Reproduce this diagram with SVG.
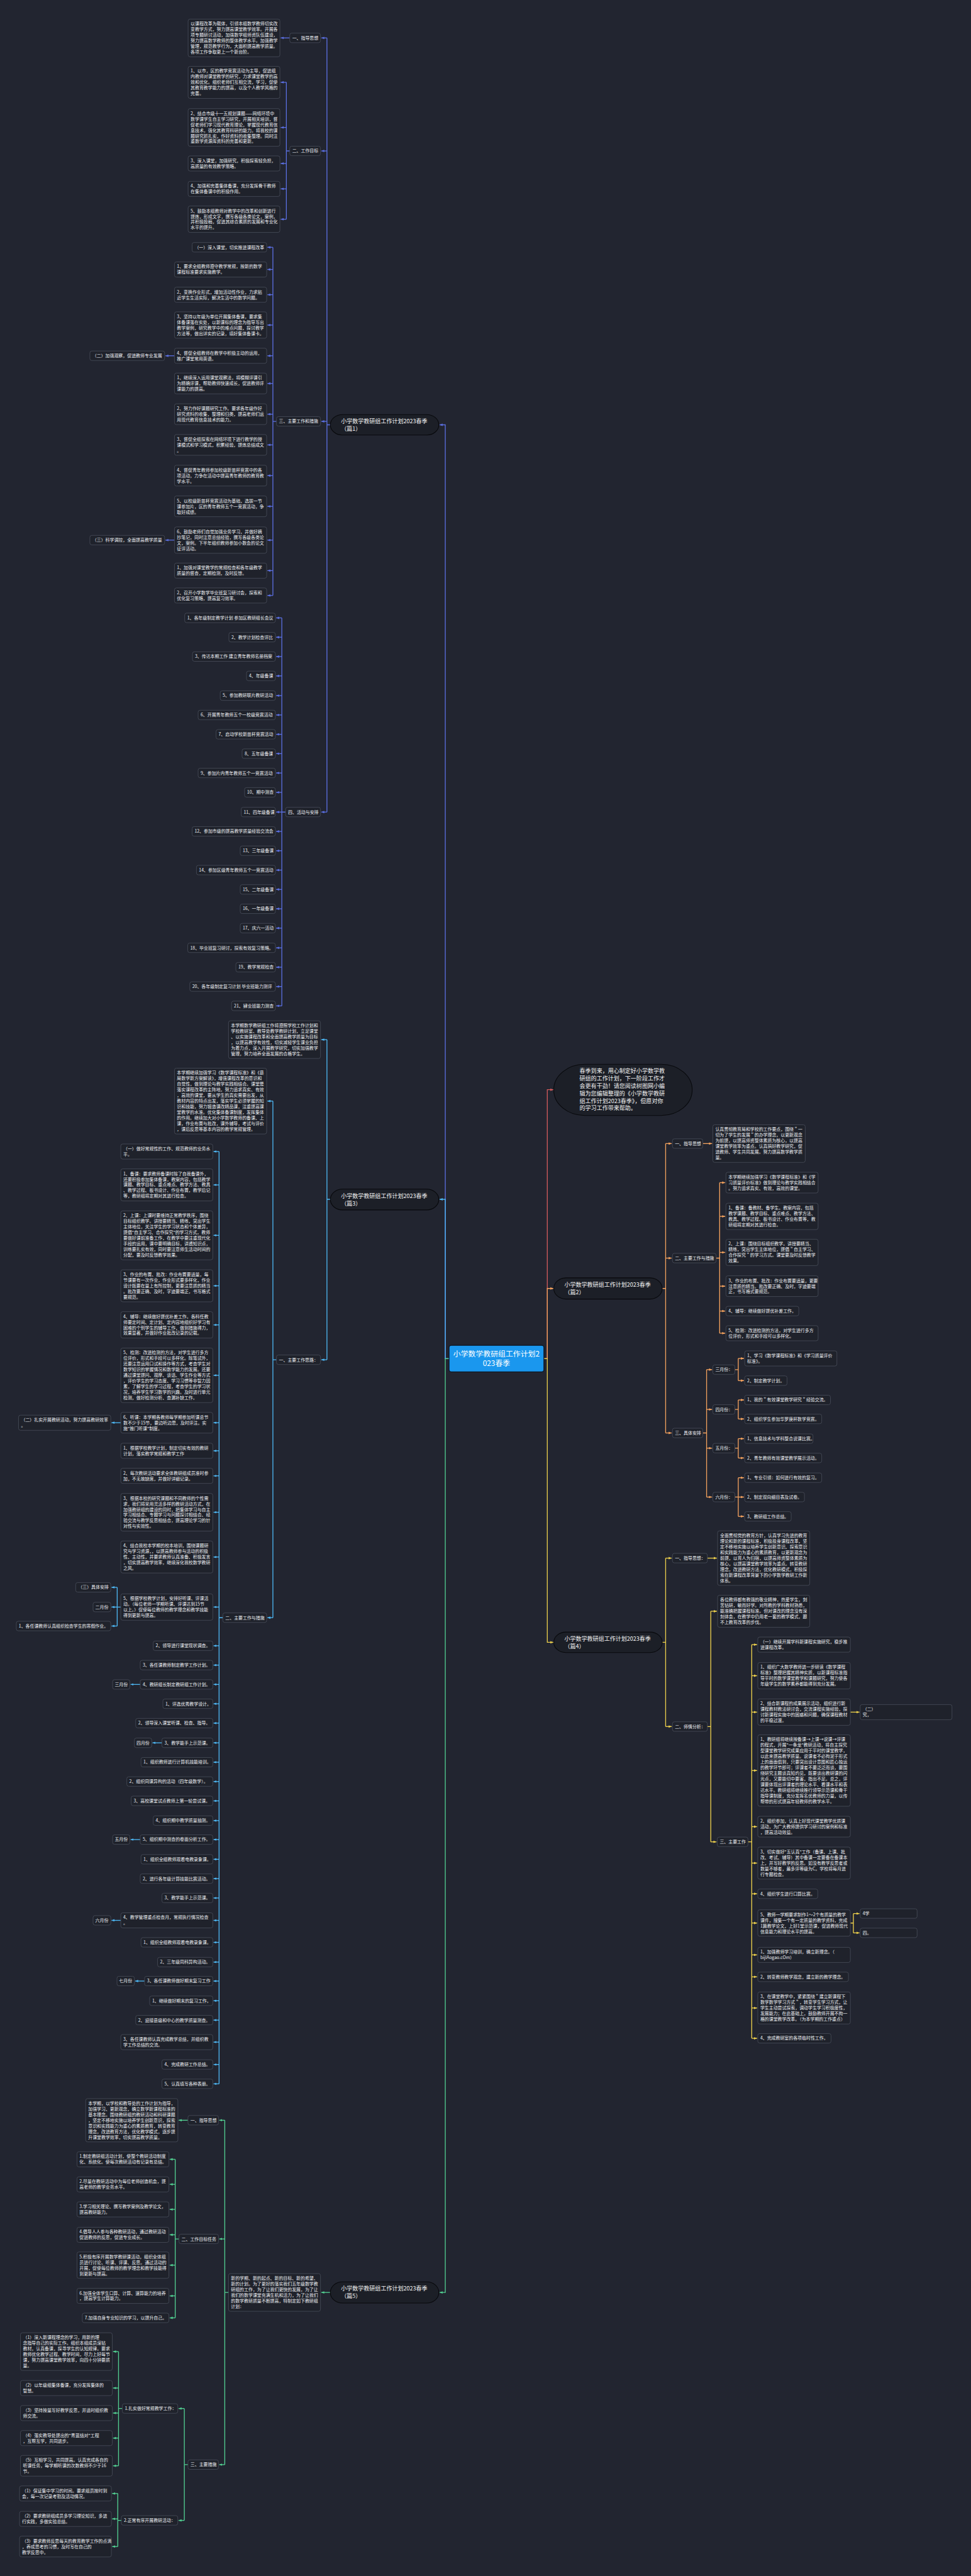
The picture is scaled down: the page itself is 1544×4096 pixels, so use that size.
<svg xmlns="http://www.w3.org/2000/svg" width="1544" height="4096" viewBox="0 0 1544 4096">
<defs>
<style>
.b{fill:#1f222b;stroke:#4a4f5c;stroke-width:1.3}
.t{font-family:"Noto Sans CJK SC","Noto Sans",sans-serif;font-size:11.5px;fill:#eceef2}
.p{fill:#1c1f27;stroke:#08090c;stroke-width:1.8}
.pt{font-family:"Noto Sans CJK SC","Noto Sans",sans-serif;font-size:15px;fill:#f4f4f4}
.ct{font-family:"Noto Sans CJK SC","Noto Sans",sans-serif;font-size:19.7px;fill:#ffffff;text-anchor:middle}
.k1,.k2,.k3,.k4,.k5,.kr{fill:none;stroke-width:2.2}
.k1{stroke:#5b6fe0}.k3{stroke:#4db6f2}.k5{stroke:#52cf91}.kr{stroke:#d45c5c}.k2{stroke:#f4a25e}.k4{stroke:#edd04c}
.m1{marker-end:url(#a1)}.m2{marker-end:url(#a2)}.m3{marker-end:url(#a3)}.m4{marker-end:url(#a4)}.m5{marker-end:url(#a5)}.mr{marker-end:url(#ar)}
</style>
<marker id="a1" viewBox="0 0 10 10" refX="10" refY="5" markerWidth="8" markerHeight="8" markerUnits="userSpaceOnUse" orient="auto"><path d="M0,1L10,5L0,9z" fill="#5b6fe0"/></marker>
<marker id="a2" viewBox="0 0 10 10" refX="10" refY="5" markerWidth="8" markerHeight="8" markerUnits="userSpaceOnUse" orient="auto"><path d="M0,1L10,5L0,9z" fill="#f4a25e"/></marker>
<marker id="a3" viewBox="0 0 10 10" refX="10" refY="5" markerWidth="8" markerHeight="8" markerUnits="userSpaceOnUse" orient="auto"><path d="M0,1L10,5L0,9z" fill="#4db6f2"/></marker>
<marker id="a4" viewBox="0 0 10 10" refX="10" refY="5" markerWidth="8" markerHeight="8" markerUnits="userSpaceOnUse" orient="auto"><path d="M0,1L10,5L0,9z" fill="#edd04c"/></marker>
<marker id="a5" viewBox="0 0 10 10" refX="10" refY="5" markerWidth="8" markerHeight="8" markerUnits="userSpaceOnUse" orient="auto"><path d="M0,1L10,5L0,9z" fill="#52cf91"/></marker>
<marker id="ar" viewBox="0 0 10 10" refX="10" refY="5" markerWidth="8" markerHeight="8" markerUnits="userSpaceOnUse" orient="auto"><path d="M0,1L10,5L0,9z" fill="#d45c5c"/></marker>
</defs>
<rect x="0" y="0" width="1544" height="4096" fill="#222530"/>
<g transform="scale(0.6031)">
<g id="connectors">
<path class="k1 m1" d="M1184,3582H1174V1120H1159"/>
<path class="k3 m3" d="M1184,3582H1174V3162H1159"/>
<path class="k5 m5" d="M1184,3582H1174V6044H1159"/>
<path class="kr mr" d="M1434,3582H1443V2873H1459"/>
<path class="k2 m2" d="M1434,3582H1443V3397H1459"/>
<path class="k4 m4" d="M1434,3582H1443V4330H1459"/>
<path class="k1" d="M871,1120H862M862,100V2141"/>
<path class="k1 m1" d="M862,100H847"/><path class="k1 m1" d="M862,398H847"/><path class="k1 m1" d="M862,1111H847"/><path class="k1 m1" d="M862,2141H847"/>
<path class="k1 m1" d="M764,100H740"/>
<path class="k1" d="M764,398H755M755,217V578"/>
<path class="k1 m1" d="M755,217H740"/><path class="k1 m1" d="M755,336H740"/><path class="k1 m1" d="M755,431H740"/><path class="k1 m1" d="M755,498H740"/><path class="k1 m1" d="M755,578H740"/>
<path class="k1" d="M729,1111H719.5M719.5,652V1570"/>
<path class="k1 m1" d="M719.5,652H705"/><path class="k1 m1" d="M719.5,710.5H705"/><path class="k1 m1" d="M719.5,777H705"/><path class="k1 m1" d="M719.5,857H705"/><path class="k1 m1" d="M719.5,938H705"/><path class="k1 m1" d="M719.5,1011H705"/><path class="k1 m1" d="M719.5,1092H705"/><path class="k1 m1" d="M719.5,1173H705"/><path class="k1 m1" d="M719.5,1254H705"/><path class="k1 m1" d="M719.5,1335H705"/><path class="k1 m1" d="M719.5,1424H705"/><path class="k1 m1" d="M719.5,1504.5H705"/><path class="k1 m1" d="M719.5,1570H705"/>
<path class="k1 m1" d="M460,938H436"/><path class="k1 m1" d="M460,1424H436"/>
<path class="k1" d="M753,2141H743M743,1629V2652"/>
<path class="k1 m1" d="M743,1629H728"/><path class="k1 m1" d="M743,1680H728"/><path class="k1 m1" d="M743,1731H728"/><path class="k1 m1" d="M743,1782H728"/><path class="k1 m1" d="M743,1834H728"/><path class="k1 m1" d="M743,1885H728"/><path class="k1 m1" d="M743,1936H728"/><path class="k1 m1" d="M743,1987H728"/><path class="k1 m1" d="M743,2038H728"/><path class="k1 m1" d="M743,2089H728"/><path class="k1 m1" d="M743,2141H728"/><path class="k1 m1" d="M743,2192H728"/><path class="k1 m1" d="M743,2243H728"/><path class="k1 m1" d="M743,2294H728"/><path class="k1 m1" d="M743,2345H728"/><path class="k1 m1" d="M743,2396H728"/><path class="k1 m1" d="M743,2447H728"/><path class="k1 m1" d="M743,2499H728"/><path class="k1 m1" d="M743,2550H728"/><path class="k1 m1" d="M743,2601H728"/><path class="k1 m1" d="M743,2652H728"/>
<path class="k3" d="M871,3162H862M862,2741V3585"/>
<path class="k3 m3" d="M862,2741H847"/><path class="k3 m3" d="M862,3585H847"/>
<path class="k3" d="M729,3585H719.5M719.5,2903V4265"/>
<path class="k3 m3" d="M719.5,2903H705"/><path class="k3 m3" d="M719.5,4265H705"/>
<path class="k3" d="M587.6,4265H577.6M577.6,3036V5494"/>
<path class="k3 m3" d="M577.6,3036H563"/><path class="k3 m3" d="M577.6,3124H563"/><path class="k3 m3" d="M577.6,3257H563"/><path class="k3 m3" d="M577.6,3390H563"/><path class="k3 m3" d="M577.6,3493H563"/><path class="k3 m3" d="M577.6,3626H563"/><path class="k3 m3" d="M577.6,3751H563"/><path class="k3 m3" d="M577.6,3825H563"/><path class="k3 m3" d="M577.6,3891H563"/><path class="k3 m3" d="M577.6,3987H563"/><path class="k3 m3" d="M577.6,4105H563"/><path class="k3 m3" d="M577.6,4237H563"/><path class="k3 m3" d="M577.6,4339H563"/><path class="k3 m3" d="M577.6,4390H563"/><path class="k3 m3" d="M577.6,4441H563"/><path class="k3 m3" d="M577.6,4492H563"/><path class="k3 m3" d="M577.6,4543H563"/><path class="k3 m3" d="M577.6,4595H563"/><path class="k3 m3" d="M577.6,4646H563"/><path class="k3 m3" d="M577.6,4697H563"/><path class="k3 m3" d="M577.6,4748H563"/><path class="k3 m3" d="M577.6,4800H563"/><path class="k3 m3" d="M577.6,4850H563"/><path class="k3 m3" d="M577.6,4902H563"/><path class="k3 m3" d="M577.6,4953H563"/><path class="k3 m3" d="M577.6,5004H563"/><path class="k3 m3" d="M577.6,5063H563"/><path class="k3 m3" d="M577.6,5121H563"/><path class="k3 m3" d="M577.6,5173H563"/><path class="k3 m3" d="M577.6,5223H563"/><path class="k3 m3" d="M577.6,5275H563"/><path class="k3 m3" d="M577.6,5326H563"/><path class="k3 m3" d="M577.6,5384H563"/><path class="k3 m3" d="M577.6,5443H563"/><path class="k3 m3" d="M577.6,5494H563"/>
<path class="k3 m3" d="M318.5,3751H294"/>
<path class="k3" d="M318.5,4237H309M309,4185V4287"/>
<path class="k3 m3" d="M309,4185H294"/><path class="k3 m3" d="M309,4237H294"/><path class="k3 m3" d="M309,4287H294"/>
<path class="k3 m3" d="M369.7,4441H344.3"/><path class="k3 m3" d="M427,4595H402"/><path class="k3 m3" d="M369.7,4850H344.3"/><path class="k3 m3" d="M318.5,5063H294"/><path class="k3 m3" d="M381.2,5223H356.3"/>
<path class="k5 m5" d="M871,6044H847"/>
<path class="k5" d="M602.5,6044H592.6M592.6,5590V6498"/>
<path class="k5 m5" d="M592.6,5590H578"/><path class="k5 m5" d="M592.6,5903H578"/><path class="k5 m5" d="M592.6,6498H578"/>
<path class="k5 m5" d="M495.6,5590H471"/>
<path class="k5" d="M472,5903H462M462,5693V6111"/>
<path class="k5 m5" d="M462,5693H447.3"/><path class="k5 m5" d="M462,5759H447.3"/><path class="k5 m5" d="M462,5825H447.3"/><path class="k5 m5" d="M462,5892H447.3"/><path class="k5 m5" d="M462,5972H447.3"/><path class="k5 m5" d="M462,6053H447.3"/><path class="k5 m5" d="M462,6111H447.3"/>
<path class="k5" d="M495.6,6498H486M486,6350V6645"/>
<path class="k5 m5" d="M486,6350H470.7"/><path class="k5 m5" d="M486,6645H470.7"/>
<path class="k5" d="M322.5,6350H312.5M312.5,6200V6501"/>
<path class="k5 m5" d="M312.5,6200H298"/><path class="k5 m5" d="M312.5,6296H298"/><path class="k5 m5" d="M312.5,6362H298"/><path class="k5 m5" d="M312.5,6428H298"/><path class="k5 m5" d="M312.5,6501H298"/>
<path class="k5" d="M320,6645H310.5M310.5,6574V6714"/>
<path class="k5 m5" d="M310.5,6574H295.6"/><path class="k5 m5" d="M310.5,6641H295.6"/><path class="k5 m5" d="M310.5,6714H295.6"/>
<path class="k2" d="M1746,3397H1755M1755,3015V3778"/>
<path class="k2 m2" d="M1755,3015H1771"/><path class="k2 m2" d="M1755,3317H1771"/><path class="k2 m2" d="M1755,3778H1771"/>
<path class="k2 m2" d="M1853,3015H1877.5"/>
<path class="k2" d="M1888,3317H1897.4M1897.4,3118V3515"/>
<path class="k2 m2" d="M1897.4,3118H1912"/><path class="k2 m2" d="M1897.4,3207H1912"/><path class="k2 m2" d="M1897.4,3302H1912"/><path class="k2 m2" d="M1897.4,3391H1912"/><path class="k2 m2" d="M1897.4,3456.6H1912"/><path class="k2 m2" d="M1897.4,3515H1912"/>
<path class="k2" d="M1853,3778H1863M1863,3611V3947"/>
<path class="k2 m2" d="M1863,3611H1877.5"/><path class="k2 m2" d="M1863,3716H1877.5"/><path class="k2 m2" d="M1863,3818H1877.5"/><path class="k2 m2" d="M1863,3947H1877.5"/>
<path class="k2" d="M1937.5,3611H1946.5M1946.5,3581.5V3640M1937.5,3716H1946.5M1946.5,3691V3741M1937.5,3818H1946.5M1946.5,3793V3844M1937.5,3947H1946.5M1946.5,3896V3998"/>
<path class="k2 m2" d="M1946.5,3581.5H1961.5"/><path class="k2 m2" d="M1946.5,3640H1961.5"/><path class="k2 m2" d="M1946.5,3691H1961.5"/><path class="k2 m2" d="M1946.5,3741H1961.5"/><path class="k2 m2" d="M1946.5,3793H1961.5"/><path class="k2 m2" d="M1946.5,3844H1961.5"/><path class="k2 m2" d="M1946.5,3896H1961.5"/><path class="k2 m2" d="M1946.5,3947H1961.5"/><path class="k2 m2" d="M1946.5,3998H1961.5"/>
<path class="k4" d="M1746,4330H1755M1755,4108V4552"/>
<path class="k4 m4" d="M1755,4108H1771"/><path class="k4 m4" d="M1755,4552H1771"/>
<path class="k4 m4" d="M1865,4108H1890"/>
<path class="k4" d="M1865,4552H1874M1874,4248V4856"/>
<path class="k4 m4" d="M1874,4248H1890"/><path class="k4 m4" d="M1874,4856H1889"/>
<path class="k4" d="M1972,4856H1982M1982,4336V5374"/>
<path class="k4 m4" d="M1982,4336H1996"/><path class="k4 m4" d="M1982,4418H1996"/><path class="k4 m4" d="M1982,4514H1996"/><path class="k4 m4" d="M1982,4668H1996"/><path class="k4 m4" d="M1982,4816H1996"/><path class="k4 m4" d="M1982,4912H1996"/><path class="k4 m4" d="M1982,4993H1996"/><path class="k4 m4" d="M1982,5070H1996"/><path class="k4 m4" d="M1982,5154H1996"/><path class="k4 m4" d="M1982,5212H1996"/><path class="k4 m4" d="M1982,5294H1996"/><path class="k4 m4" d="M1982,5374H1996"/>
<path class="k4 m4" d="M2242,4514H2266"/>
<path class="k4" d="M2242,5070H2250M2250,5045V5096"/>
<path class="k4 m4" d="M2250,5045H2266"/><path class="k4 m4" d="M2250,5096H2266"/>
</g>

<g id="center"><rect x="1184" y="3547" width="250" height="70" rx="6" fill="#1a97ee" stroke="#0d1520" stroke-width="2"/><text class="ct" x="1309" y="3576">小学数学教研组工作计划2<tspan x="1309" dy="26">023春季</tspan></text></g>

<g id="intro"><rect class="p" x="1460" y="2806" width="365" height="135" rx="82" ry="67"/><text class="pt" x="1528" y="2828.3">春季到来，用心制定好小学数学教<tspan x="1528" dy="19.8">研组的工作计划，下一阶段工作才</tspan><tspan x="1528" dy="19.8">会更有干劲！请您阅读树图网小编</tspan><tspan x="1528" dy="19.8">辑为您编辑整理的《小学数学教研</tspan><tspan x="1528" dy="19.8">组工作计划2023春季》，但愿对你</tspan><tspan x="1528" dy="19.8">的学习工作带来帮助。</tspan></text></g>

<g id="p1"><rect class="p" x="871" y="1093" width="286" height="54" rx="32" ry="27"/><text class="pt" x="899" y="1115.5">小学数学教研组工作计划2023春季<tspan x="899" dy="20">（篇1）</tspan></text></g>
<g id="p1-1"><rect class="b" x="764" y="87.5" width="81" height="25" rx="5"/><text class="t" x="770.5" y="104">一、指导思想</text></g>
<g id="p1-1a"><rect class="b" x="496" y="50.4" width="242" height="99.25" rx="5"/><text class="t" x="502.5" y="66.9">以课程改革为载体，引领本组数学教师切实改<tspan x="502.5" dy="14.85">变教学方式，努力提高课堂教学效率。开展各</tspan><tspan x="502.5" dy="14.85">项专题研讨活动，加强数学组师资队伍建设，</tspan><tspan x="502.5" dy="14.85">努力提高数学教师的整体教学水平。加强教学</tspan><tspan x="502.5" dy="14.85">管理，规范教学行为，大面积提高教学质量。</tspan><tspan x="502.5" dy="14.85">各项工作争取更上一个新台阶。</tspan></text></g>
<g id="p1-2"><rect class="b" x="764" y="385.5" width="81" height="25" rx="5"/><text class="t" x="770.5" y="402">二、工作目标</text></g>
<g id="p1-2a"><rect class="b" x="496" y="175" width="242" height="84.4" rx="5"/><text class="t" x="502.5" y="191.5">1、以市，区的教学竞赛活动为主导，促进组<tspan x="502.5" dy="14.85">内教师对课堂教学的研究，力求课堂教学的高</tspan><tspan x="502.5" dy="14.85">效和优化。组织老师们互相交流，学习，促使</tspan><tspan x="502.5" dy="14.85">其教育教学能力的提高，以及个人教学风格的</tspan><tspan x="502.5" dy="14.85">完善。</tspan></text></g>
<g id="p1-2b"><rect class="b" x="496" y="286.4" width="242" height="99.25" rx="5"/><text class="t" x="502.5" y="302.9">2、结合市级十一五规划课题——网络环境中<tspan x="502.5" dy="14.85">数学课学生自主学习研究，开展相关培训，督</tspan><tspan x="502.5" dy="14.85">促老师们学习现代教育理论，掌握现代教育信</tspan><tspan x="502.5" dy="14.85">息技术，强化其教育科研的能力。将我校的课</tspan><tspan x="502.5" dy="14.85">题研究抓扎实，作好资料的收集整理。同时注</tspan><tspan x="502.5" dy="14.85">重数学资源库资料的完善和更新。</tspan></text></g>
<g id="p1-2c"><rect class="b" x="496" y="411.1" width="242" height="39.85" rx="5"/><text class="t" x="502.5" y="427.6">3、深入课堂，加强研究，积极探索轻负担，<tspan x="502.5" dy="14.85">高质量的有效教学策略。</tspan></text></g>
<g id="p1-2d"><rect class="b" x="496" y="478.1" width="242" height="39.85" rx="5"/><text class="t" x="502.5" y="494.6">4、加强和完善集体备课，充分发挥骨干教师<tspan x="502.5" dy="14.85">在集体备课中的积极作用。</tspan></text></g>
<g id="p1-2e"><rect class="b" x="496" y="543.2" width="242" height="69.55" rx="5"/><text class="t" x="502.5" y="559.7">5、鼓励本组教师对教学中的改革和创新进行<tspan x="502.5" dy="14.85">提炼，形成文字，撰写各级各类论文，案例，</tspan><tspan x="502.5" dy="14.85">并积极投稿，促进其综合素质的发展和专业化</tspan><tspan x="502.5" dy="14.85">水平的提升。</tspan></text></g>
<g id="p1-3"><rect class="b" x="729" y="1098.5" width="116" height="25" rx="5"/><text class="t" x="735.5" y="1115">三、主要工作和措施</text></g>
<g id="p1-3a"><rect class="b" x="506.5" y="639.5" width="196.5" height="25" rx="5"/><text class="t" x="513" y="656">（一）深入课堂，切实推进课程改革</text></g>
<g id="p1-3b"><rect class="b" x="460" y="690.6" width="243" height="39.85" rx="5"/><text class="t" x="466.5" y="707.1">1、要求全组教师遵守教学常规，按新的数学<tspan x="466.5" dy="14.85">课程标准要求实施教学。</tspan></text></g>
<g id="p1-3c"><rect class="b" x="460" y="757.1" width="243" height="39.85" rx="5"/><text class="t" x="466.5" y="773.6">2、变换作业形式，增加活动性作业，力求贴<tspan x="466.5" dy="14.85">近学生生活实际，解决生活中的数学问题。</tspan></text></g>
<g id="p1-3d"><rect class="b" x="460" y="822.2" width="243" height="69.55" rx="5"/><text class="t" x="466.5" y="838.7">3、坚持以年级为单位开展集体备课，要求集<tspan x="466.5" dy="14.85">体备课落在实处，以新课标的理念为指导写出</tspan><tspan x="466.5" dy="14.85">教学案例，研究教学中的难点问题，探讨教学</tspan><tspan x="466.5" dy="14.85">方法等，做出详实的记录，填好集体备课卡。</tspan></text></g>
<g id="p1-3e"><rect class="b" x="460" y="918.1" width="243" height="39.85" rx="5"/><text class="t" x="466.5" y="934.6">4、督促全组教师在教学中积极主动的运用，<tspan x="466.5" dy="14.85">推广课堂常用英语。</tspan></text></g>
<g id="p1-3e1"><rect class="b" x="237" y="925.5" width="197" height="25" rx="5"/><text class="t" x="243.5" y="942">（二）加强观察，促进教师专业发展</text></g>
<g id="p1-3f"><rect class="b" x="460" y="983.65" width="243" height="54.7" rx="5"/><text class="t" x="466.5" y="1000.15">1、继续深入运用课堂观察法，将模糊评课引<tspan x="466.5" dy="14.85">为精确评课，帮助教师快速成长，促进教师评</tspan><tspan x="466.5" dy="14.85">课能力的提高。</tspan></text></g>
<g id="p1-3g"><rect class="b" x="460" y="1064.65" width="243" height="54.7" rx="5"/><text class="t" x="466.5" y="1081.15">2、努力作好课题研究工作。要求各年级作好<tspan x="466.5" dy="14.85">研究资料的收集，整理和归类，提高老师们运</tspan><tspan x="466.5" dy="14.85">用现代教育信息技术的能力。</tspan></text></g>
<g id="p1-3h"><rect class="b" x="460" y="1145.65" width="243" height="54.7" rx="5"/><text class="t" x="466.5" y="1162.15">3、督促全组探索在网络环境下进行教学的授<tspan x="466.5" dy="14.85">课模式和学习模式，积累经验，提炼总结成文</tspan><tspan x="466.5" dy="14.85">。</tspan></text></g>
<g id="p1-3i"><rect class="b" x="460" y="1226.65" width="243" height="54.7" rx="5"/><text class="t" x="466.5" y="1243.15">4、督促青年教师参加校级新苗杯竞赛中的各<tspan x="466.5" dy="14.85">项活动，力争在活动中提高青年教师的教育教</tspan><tspan x="466.5" dy="14.85">学水平。</tspan></text></g>
<g id="p1-3j"><rect class="b" x="460" y="1307.65" width="243" height="54.7" rx="5"/><text class="t" x="466.5" y="1324.15">5、以校级新苗杯竞赛活动为基础，选拔一节<tspan x="466.5" dy="14.85">课参加片，区的青年教师五个一竞赛活动，争</tspan><tspan x="466.5" dy="14.85">取好成绩。</tspan></text></g>
<g id="p1-3k"><rect class="b" x="460" y="1389.2" width="243" height="69.55" rx="5"/><text class="t" x="466.5" y="1405.7">6、鼓励老师们自觉加强业务学习，并做好摘<tspan x="466.5" dy="14.85">抄笔记，同时注意总结经验，撰写各级各类论</tspan><tspan x="466.5" dy="14.85">文，案例。下半年组织教师参加小数会的论文</tspan><tspan x="466.5" dy="14.85">征评活动。</tspan></text></g>
<g id="p1-3k1"><rect class="b" x="237" y="1411.5" width="197" height="25" rx="5"/><text class="t" x="243.5" y="1428">（三）科学调控，全面提高教学质量</text></g>
<g id="p1-3l"><rect class="b" x="460" y="1484.6" width="243" height="39.85" rx="5"/><text class="t" x="466.5" y="1501.1">1、加强对课堂教学的常规检查和各年级教学<tspan x="466.5" dy="14.85">质量的督查，定期检测，及时反馈。</tspan></text></g>
<g id="p1-3m"><rect class="b" x="460" y="1550.1" width="243" height="39.85" rx="5"/><text class="t" x="466.5" y="1566.6">2、召开小学数学毕业班复习研讨会，探索和<tspan x="466.5" dy="14.85">优化复习策略，提高复习效率。</tspan></text></g>
<g id="p1-4"><rect class="b" x="753" y="2128.5" width="92" height="25" rx="5"/><text class="t" x="759.5" y="2145">四、活动与安排</text></g>
<g id="p1-4-01"><rect class="b" x="487" y="1616.5" width="239" height="25" rx="5"/><text class="t" x="493.5" y="1633">1、各年级制定教学计划 参加区教研组长会议</text></g>
<g id="p1-4-02"><rect class="b" x="603.5" y="1667.5" width="122.5" height="25" rx="5"/><text class="t" x="610" y="1684">2、教学计划检查评比</text></g>
<g id="p1-4-03"><rect class="b" x="507.5" y="1718.5" width="218.5" height="25" rx="5"/><text class="t" x="514" y="1735">3、传达本期工作 建立青年教师名册档案</text></g>
<g id="p1-4-04"><rect class="b" x="650" y="1769.5" width="76" height="25" rx="5"/><text class="t" x="656.5" y="1786">4、年级备课</text></g>
<g id="p1-4-05"><rect class="b" x="580.6" y="1821.5" width="145.4" height="25" rx="5"/><text class="t" x="587.1" y="1838">5、参加教研联片教研活动</text></g>
<g id="p1-4-06"><rect class="b" x="522.4" y="1872.5" width="203.6" height="25" rx="5"/><text class="t" x="528.9" y="1889">6、开展青年教师五个一校级竞赛活动</text></g>
<g id="p1-4-07"><rect class="b" x="569.7" y="1923.5" width="156.3" height="25" rx="5"/><text class="t" x="576.2" y="1940">7、启动学校新苗杯竞赛活动</text></g>
<g id="p1-4-08"><rect class="b" x="638.3" y="1974.5" width="87.7" height="25" rx="5"/><text class="t" x="644.8" y="1991">8、五年级备课</text></g>
<g id="p1-4-09"><rect class="b" x="522.4" y="2025.5" width="203.6" height="25" rx="5"/><text class="t" x="528.9" y="2042">9、参加片内青年教师五个一竞赛活动</text></g>
<g id="p1-4-10"><rect class="b" x="644.8" y="2076.5" width="81.2" height="25" rx="5"/><text class="t" x="651.3" y="2093">10、期中测查</text></g>
<g id="p1-4-11"><rect class="b" x="635.9" y="2128.5" width="90.1" height="25" rx="5"/><text class="t" x="642.4" y="2145">11、四年级备课</text></g>
<g id="p1-4-12"><rect class="b" x="506.5" y="2179.5" width="219.5" height="25" rx="5"/><text class="t" x="513" y="2196">12、参加市级的提高教学质量经验交流会</text></g>
<g id="p1-4-13"><rect class="b" x="633.4" y="2230.5" width="92.6" height="25" rx="5"/><text class="t" x="639.9" y="2247">13、三年级备课</text></g>
<g id="p1-4-14"><rect class="b" x="518" y="2281.5" width="208" height="25" rx="5"/><text class="t" x="524.5" y="2298">14、参加区级青年教师五个一竞赛活动</text></g>
<g id="p1-4-15"><rect class="b" x="633.4" y="2332.5" width="92.6" height="25" rx="5"/><text class="t" x="639.9" y="2349">15、二年级备课</text></g>
<g id="p1-4-16"><rect class="b" x="633.4" y="2383.5" width="92.6" height="25" rx="5"/><text class="t" x="639.9" y="2400">16、一年级备课</text></g>
<g id="p1-4-17"><rect class="b" x="633.4" y="2434.5" width="92.6" height="25" rx="5"/><text class="t" x="639.9" y="2451">17、庆六一活动</text></g>
<g id="p1-4-18"><rect class="b" x="495" y="2486.5" width="231" height="25" rx="5"/><text class="t" x="501.5" y="2503">18、毕业班复习研讨，探索有效复习策略。</text></g>
<g id="p1-4-19"><rect class="b" x="621.9" y="2537.5" width="104.1" height="25" rx="5"/><text class="t" x="628.4" y="2554">19、教学常规检查</text></g>
<g id="p1-4-20"><rect class="b" x="500.5" y="2588.5" width="225.5" height="25" rx="5"/><text class="t" x="507" y="2605">20、各年级制定复习计划 毕业班能力测评</text></g>
<g id="p1-4-21"><rect class="b" x="610.5" y="2639.5" width="115.5" height="25" rx="5"/><text class="t" x="617" y="2656">21、肄业班能力测查</text></g>

<g id="p3"><rect class="p" x="871" y="3135" width="286" height="55" rx="32" ry="27.5"/><text class="pt" x="899" y="3158">小学数学教研组工作计划2023春季<tspan x="899" dy="20">（篇3）</tspan></text></g>
<g id="p3-0"><rect class="b" x="602.5" y="2691.4" width="242.5" height="99.25" rx="5"/><text class="t" x="609" y="2707.9">本学期数学教研组工作将遵照学校工作计划和<tspan x="609" dy="14.85">学校教研室、教导处教学教研计划，立足课堂</tspan><tspan x="609" dy="14.85">、以实施课程改革和全面提高教学质量为目标</tspan><tspan x="609" dy="14.85">，以提高教学有效性，切实减轻学生课业负担</tspan><tspan x="609" dy="14.85">为着力点，深入开展教学研究，切实加强教学</tspan><tspan x="609" dy="14.85">管理，努力培养全面发展的合格学生。</tspan></text></g>
<g id="p3-1"><rect class="b" x="729" y="3572.5" width="116" height="25" rx="5"/><text class="t" x="735.5" y="3589">一、主要工作思路：</text></g>
<g id="p3-1a"><rect class="b" x="460" y="2816.25" width="243" height="173.5" rx="5"/><text class="t" x="466.5" y="2832.75">本学期继续加强学习《数学课程标准》和《县<tspan x="466.5" dy="14.85">局数学新方案解读》，增强课程改革的意识和</tspan><tspan x="466.5" dy="14.85">自觉性，做到理论与教学实践相结合。课堂是</tspan><tspan x="466.5" dy="14.85">落实课程改革的主阵地，努力追求真实、有效</tspan><tspan x="466.5" dy="14.85">，高效的课堂，要从学生的真实需要出发，从</tspan><tspan x="466.5" dy="14.85">教材内容的特点出发，落实学生必须掌握的知</tspan><tspan x="466.5" dy="14.85">识和技能，努力锻造课改精品课，注重提高课</tspan><tspan x="466.5" dy="14.85">堂教学的水准。优化集体备课制度，发挥集体</tspan><tspan x="466.5" dy="14.85">的作用。继续加大对小学数学教师的备课、上</tspan><tspan x="466.5" dy="14.85">课，作业布置与批改，课外辅导，考试与评价</tspan><tspan x="466.5" dy="14.85">，课后反思等基本内容的教学常规管理。</tspan></text></g>
<g id="p3-2"><rect class="b" x="587.6" y="4252.5" width="115.4" height="25" rx="5"/><text class="t" x="594.1" y="4269">二、主要工作与措施</text></g>
<g id="p3-2-01"><rect class="b" x="318.5" y="3016.1" width="242.5" height="39.85" rx="5"/><text class="t" x="325" y="3032.6">（一）做好常规性的工作、规范教师的业务水<tspan x="325" dy="14.85">平。</tspan></text></g>
<g id="p3-2-02"><rect class="b" x="318.5" y="3081.8" width="242.5" height="84.4" rx="5"/><text class="t" x="325" y="3098.3">1、备课：要求教师备课时除了自我备课外，<tspan x="325" dy="14.85">还要积极参加集体备课，教案内容，包括教学</tspan><tspan x="325" dy="14.85">课题、教学目标、重点难点、教学方法、教具</tspan><tspan x="325" dy="14.85">、教学过程、板书设计、作业布置，教学后记</tspan><tspan x="325" dy="14.85">等，教研组将定期对其进行检查。</tspan></text></g>
<g id="p3-2-03"><rect class="b" x="318.5" y="3192.5" width="242.5" height="128.95" rx="5"/><text class="t" x="325" y="3209">2、上课：上课时要维持正常教学秩序，围绕<tspan x="325" dy="14.85">目标组织教学。讲授要精当、精练，突出学生</tspan><tspan x="325" dy="14.85">主体地位，关注学生的学习状态和个体差异，</tspan><tspan x="325" dy="14.85">提倡"自主学习、合作探究"的学习方式，教师</tspan><tspan x="325" dy="14.85">要做好课前准备工作，在教学中要注重现代化</tspan><tspan x="325" dy="14.85">手段的运用，课中要明确目标，讲透知识点，</tspan><tspan x="325" dy="14.85">训练要扎实有效，同时要注意师生活动时间的</tspan><tspan x="325" dy="14.85">分配，要及时反馈教学效果。</tspan></text></g>
<g id="p3-2-04"><rect class="b" x="318.5" y="3347.8" width="242.5" height="84.4" rx="5"/><text class="t" x="325" y="3364.3">3、作业的布置、批改：作业布置要适量，每<tspan x="325" dy="14.85">节课要有一次作业，作业形式要多样化，作业</tspan><tspan x="325" dy="14.85">设计既要在量上有所控制，更要注意质的精当</tspan><tspan x="325" dy="14.85">。批改要正确、及时，字迹要端正，书写格式</tspan><tspan x="325" dy="14.85">要规范。</tspan></text></g>
<g id="p3-2-05"><rect class="b" x="318.5" y="3458.2" width="242.5" height="69.55" rx="5"/><text class="t" x="325" y="3474.7">4、辅导：继续做好提优补差工作。各科任教<tspan x="325" dy="14.85">师要定时间、定计划、定内容地组织好学习有</tspan><tspan x="325" dy="14.85">困难的个别学生的辅导工作，做到措施得力，</tspan><tspan x="325" dy="14.85">效果显著，并做好作业批改记录的记载。</tspan></text></g>
<g id="p3-2-06"><rect class="b" x="318.5" y="3554.1" width="242.5" height="143.8" rx="5"/><text class="t" x="325" y="3570.6">5、检测：改进检测的方法，对学生进行多方<tspan x="325" dy="14.85">位评价，形式和手段可以多样化。除笔试外，</tspan><tspan x="325" dy="14.85">还要注意运用口试和操作等方式，考查学生对</tspan><tspan x="325" dy="14.85">数学知识的掌握情况和数学能力的发展。还要</tspan><tspan x="325" dy="14.85">通过课堂提问、观摩、谈话、学生作业等方式</tspan><tspan x="325" dy="14.85">，评价学生的学习态度、学习习惯等非智力因</tspan><tspan x="325" dy="14.85">素，了解学生的学习过程，考查学生的学习状</tspan><tspan x="325" dy="14.85">况，培养学生学习数学的兴趣。及时进行单元</tspan><tspan x="325" dy="14.85">检测，做好检测分析、查漏补缺工作。</tspan></text></g>
<g id="p3-2-07"><rect class="b" x="318.5" y="3723.65" width="242.5" height="54.7" rx="5"/><text class="t" x="325" y="3740.15">6、听课：本学期各教师每学期参加听课总节<tspan x="325" dy="14.85">数不少于15节，要边听边思，及时评注。实</tspan><tspan x="325" dy="14.85">施"推门听课"制度。</tspan></text></g>
<g id="p3-2-07a"><rect class="b" x="49" y="3731.1" width="243" height="39.85" rx="5"/><text class="t" x="55.5" y="3747.6">（二）扎实开展教研活动，努力提高教研效率<tspan x="55.5" dy="14.85">。</tspan></text></g>
<g id="p3-2-08"><rect class="b" x="318.5" y="3805.1" width="242.5" height="39.85" rx="5"/><text class="t" x="325" y="3821.6">1、根据学校教学计划，制定切实有效的教研<tspan x="325" dy="14.85">计划，落实教学常规和教学工作</tspan></text></g>
<g id="p3-2-09"><rect class="b" x="318.5" y="3871.1" width="242.5" height="39.85" rx="5"/><text class="t" x="325" y="3887.6">2、每次教研活动要求全体教研组成员准时参<tspan x="325" dy="14.85">加，不无故缺席，并做好详细记录。</tspan></text></g>
<g id="p3-2-10"><rect class="b" x="318.5" y="3937.4" width="242.5" height="99.25" rx="5"/><text class="t" x="325" y="3953.9">3、根据本校的研究课题和不同教师的个性需<tspan x="325" dy="14.85">求，我们将采用灵活多样的教研活动方式，在</tspan><tspan x="325" dy="14.85">加强教研组的建设的同时，把集体学习与自主</tspan><tspan x="325" dy="14.85">学习相结合、专题学习与问题探讨相结合、经</tspan><tspan x="325" dy="14.85">验交流与教学反思相结合，提高理论学习的针</tspan><tspan x="325" dy="14.85">对性与实效性。</tspan></text></g>
<g id="p3-2-11"><rect class="b" x="318.5" y="4062.8" width="242.5" height="84.4" rx="5"/><text class="t" x="325" y="4079.3">4、结合我校本学期的校本培训，围绕课题研<tspan x="325" dy="14.85">究与学习资源，，以提高教师参与活动的积极</tspan><tspan x="325" dy="14.85">性、主动性，并要求教师认真准备、积极发言</tspan><tspan x="325" dy="14.85">，切实提高教学效率，继续深化我校数学教研</tspan><tspan x="325" dy="14.85">之风。</tspan></text></g>
<g id="p3-2-12"><rect class="b" x="318.5" y="4202.2" width="242.5" height="69.55" rx="5"/><text class="t" x="325" y="4218.7">5、根据学校教学计划，安排好听课、评课活<tspan x="325" dy="14.85">动。（每位老师一学期听课、评课达到15节</tspan><tspan x="325" dy="14.85">以上。）促使每位教师的教学理念和教学技能</tspan><tspan x="325" dy="14.85">得到更新与提高。</tspan></text></g>
<g id="p3-2-12a"><rect class="b" x="199.6" y="4172.5" width="92.4" height="25" rx="5"/><text class="t" x="206.1" y="4189">（三）具体安排</text></g>
<g id="p3-2-12b"><rect class="b" x="245.4" y="4224.5" width="46.7" height="25" rx="5"/><text class="t" x="251.4" y="4241">二月份</text></g>
<g id="p3-2-12c"><rect class="b" x="43" y="4274.5" width="249" height="25" rx="5"/><text class="t" x="49.5" y="4291">1、各任课教师认真组织检查学生的寒假作业。</text></g>
<g id="p3-2-13"><rect class="b" x="404" y="4326.5" width="157" height="25" rx="5"/><text class="t" x="410.5" y="4343">2、领导进行课堂现状调查。</text></g>
<g id="p3-2-14"><rect class="b" x="369.7" y="4377.5" width="191.3" height="25" rx="5"/><text class="t" x="376.2" y="4394">3、各任课教师制定教学工作计划。</text></g>
<g id="p3-2-15"><rect class="b" x="369.7" y="4428.5" width="191.3" height="25" rx="5"/><text class="t" x="376.2" y="4445">4、教研组长制定教研组工作计划。</text></g>
<g id="p3-m3"><rect class="b" x="297" y="4428.5" width="45.3" height="25" rx="5"/><text class="t" x="302.5" y="4445">三月份</text></g>
<g id="p3-2-16"><rect class="b" x="429.4" y="4479.5" width="131.6" height="25" rx="5"/><text class="t" x="435.9" y="4496">1、评选优秀教学设计。</text></g>
<g id="p3-2-17"><rect class="b" x="357.8" y="4530.5" width="203.2" height="25" rx="5"/><text class="t" x="364.3" y="4547">2、领导深入课堂听课、检查、指导。</text></g>
<g id="p3-2-18"><rect class="b" x="427" y="4582.5" width="134" height="25" rx="5"/><text class="t" x="433.5" y="4599">3、教学能手上示范课。</text></g>
<g id="p3-m4"><rect class="b" x="354.3" y="4582.5" width="45.7" height="25" rx="5"/><text class="t" x="359.8" y="4599">四月份</text></g>
<g id="p3-2-19"><rect class="b" x="371.7" y="4633.5" width="189.3" height="25" rx="5"/><text class="t" x="378.2" y="4650">1、组织教师进行计算机技能培训。</text></g>
<g id="p3-2-20"><rect class="b" x="334.4" y="4684.5" width="226.6" height="25" rx="5"/><text class="t" x="340.9" y="4701">2、组织同课异构的活动（四年级数学）。</text></g>
<g id="p3-2-21"><rect class="b" x="345.8" y="4735.5" width="215.2" height="25" rx="5"/><text class="t" x="352.3" y="4752">3、高校课堂试点教师上第一轮尝试课。</text></g>
<g id="p3-2-22"><rect class="b" x="404" y="4787.5" width="157" height="25" rx="5"/><text class="t" x="410.5" y="4804">4、组织期中教学质量抽测。</text></g>
<g id="p3-2-23"><rect class="b" x="369.7" y="4837.5" width="191.3" height="25" rx="5"/><text class="t" x="376.2" y="4854">5、组织期中测查的卷面分析工作。</text></g>
<g id="p3-m5"><rect class="b" x="297" y="4837.5" width="45.3" height="25" rx="5"/><text class="t" x="302.5" y="4854">五月份</text></g>
<g id="p3-2-24"><rect class="b" x="371.7" y="4889.5" width="189.3" height="25" rx="5"/><text class="t" x="378.2" y="4906">1、组织全组教师观看电教录象课。</text></g>
<g id="p3-2-25"><rect class="b" x="369.7" y="4940.5" width="191.3" height="25" rx="5"/><text class="t" x="376.2" y="4957">2、进行各年级计算技能比赛活动。</text></g>
<g id="p3-2-26"><rect class="b" x="427" y="4991.5" width="134" height="25" rx="5"/><text class="t" x="433.5" y="5008">3、教学能手上示范课。</text></g>
<g id="p3-2-27"><rect class="b" x="318.5" y="5043.1" width="242.5" height="39.85" rx="5"/><text class="t" x="325" y="5059.6">4、教学管理重点检查月，常规执行情况检查<tspan x="325" dy="14.85">。</tspan></text></g>
<g id="p3-m6"><rect class="b" x="245.4" y="5050.5" width="46.7" height="25" rx="5"/><text class="t" x="251.4" y="5067">六月份</text></g>
<g id="p3-2-28"><rect class="b" x="371.7" y="5108.5" width="189.3" height="25" rx="5"/><text class="t" x="378.2" y="5125">1、组织全组教师观看电教录象课。</text></g>
<g id="p3-2-29"><rect class="b" x="415.5" y="5160.5" width="145.5" height="25" rx="5"/><text class="t" x="422" y="5177">2、三年级同科异构活动。</text></g>
<g id="p3-2-30"><rect class="b" x="381.2" y="5210.5" width="179.8" height="25" rx="5"/><text class="t" x="387.7" y="5227">3、各任课教师做好期末复习工作</text></g>
<g id="p3-m7"><rect class="b" x="308.5" y="5210.5" width="45.8" height="25" rx="5"/><text class="t" x="314" y="5227">七月份</text></g>
<g id="p3-2-31"><rect class="b" x="394.6" y="5262.5" width="166.4" height="25" rx="5"/><text class="t" x="401.1" y="5279">1、继续做好期末的复习工作。</text></g>
<g id="p3-2-32"><rect class="b" x="357.8" y="5313.5" width="203.2" height="25" rx="5"/><text class="t" x="364.3" y="5330">2、迎接县级和中心的教学质量测查。</text></g>
<g id="p3-2-33"><rect class="b" x="318.5" y="5364.1" width="242.5" height="39.85" rx="5"/><text class="t" x="325" y="5380.6">3、各任课教师认真完成教学总结，并组织教<tspan x="325" dy="14.85">学工作总结的交流。</tspan></text></g>
<g id="p3-2-34"><rect class="b" x="427" y="5430.5" width="134" height="25" rx="5"/><text class="t" x="433.5" y="5447">4、完成教研工作总结。</text></g>
<g id="p3-2-35"><rect class="b" x="427" y="5481.5" width="134" height="25" rx="5"/><text class="t" x="433.5" y="5498">5、认真填写各种表册。</text></g>

<g id="p5"><rect class="p" x="871" y="6016" width="286" height="56" rx="32" ry="28"/><text class="pt" x="899" y="6039.5">小学数学教研组工作计划2023春季<tspan x="899" dy="20">（篇5）</tspan></text></g>
<g id="p5-0"><rect class="b" x="602.5" y="5994.4" width="242.5" height="99.25" rx="5"/><text class="t" x="609" y="6010.9">新的学期、新的起点、新的目标、新的希望、<tspan x="609" dy="14.85">新的计划。为了更好的落实我们五年级数学教</tspan><tspan x="609" dy="14.85">研组的工作，为了让我们更快的发展，为了让</tspan><tspan x="609" dy="14.85">我们的数学课堂充满生机和活力，为了让我们</tspan><tspan x="609" dy="14.85">的数学教研质量不断提高，特制定如下教研组</tspan><tspan x="609" dy="14.85">计划：</tspan></text></g>
<g id="p5-1"><rect class="b" x="495.6" y="5577.5" width="80.4" height="25" rx="5"/><text class="t" x="502.1" y="5594">一、指导思想</text></g>
<g id="p5-1a"><rect class="b" x="226" y="5532.95" width="243" height="114.1" rx="5"/><text class="t" x="232.5" y="5549.45">本学期，以学校和教导处的工作计划为指导，<tspan x="232.5" dy="14.85">加强学习、更新观念，确立数学新课程标准的</tspan><tspan x="232.5" dy="14.85">基本理念。围绕教研组的教研活动和科研课题</tspan><tspan x="232.5" dy="14.85">，坚定不移地实施以培养学生创新意识，探索</tspan><tspan x="232.5" dy="14.85">意识和实践能力为重心的素质教育，转变教育</tspan><tspan x="232.5" dy="14.85">理念，改进教育方法，优化教学模式，逐步提</tspan><tspan x="232.5" dy="14.85">升课堂教学效率，切实提高教学质量。</tspan></text></g>
<g id="p5-2"><rect class="b" x="472" y="5890.5" width="104" height="25" rx="5"/><text class="t" x="478.5" y="5907">二、工作目标任务</text></g>
<g id="p5-2-1"><rect class="b" x="203" y="5673.1" width="242.3" height="39.85" rx="5"/><text class="t" x="209.5" y="5689.6">1.制定教研组活动计划，使整个教研活动制度<tspan x="209.5" dy="14.85">化、系统化。使每次教研活动有记录有总结。</tspan></text></g>
<g id="p5-2-2"><rect class="b" x="203" y="5739.1" width="242.3" height="39.85" rx="5"/><text class="t" x="209.5" y="5755.6">2.尽量在教研活动中为每位老师创造机会，提<tspan x="209.5" dy="14.85">高老师的教学业务水平。</tspan></text></g>
<g id="p5-2-3"><rect class="b" x="203" y="5805.1" width="242.3" height="39.85" rx="5"/><text class="t" x="209.5" y="5821.6">3.学习相关理论、撰写教学案例及教学论文，<tspan x="209.5" dy="14.85">提高教研能力。</tspan></text></g>
<g id="p5-2-4"><rect class="b" x="203" y="5872.1" width="242.3" height="39.85" rx="5"/><text class="t" x="209.5" y="5888.6">4.倡导人人参与各种教研活动，通过教研活动<tspan x="209.5" dy="14.85">促进教师的反思，促进专业成长。</tspan></text></g>
<g id="p5-2-5"><rect class="b" x="203" y="5937.2" width="242.3" height="69.55" rx="5"/><text class="t" x="209.5" y="5953.7">5.积极有序开展数学教研课活动，组织全体组<tspan x="209.5" dy="14.85">员进行讨论、听课、评课、反思。通过活动的</tspan><tspan x="209.5" dy="14.85">开展，促使每位教师的教学理念和教学技能得</tspan><tspan x="209.5" dy="14.85">到更新与提高。</tspan></text></g>
<g id="p5-2-6"><rect class="b" x="203" y="6033.1" width="242.3" height="39.85" rx="5"/><text class="t" x="209.5" y="6049.6">6.加强全体学生口算、计算、速算能力的培养<tspan x="209.5" dy="14.85">，提高学生计算能力。</tspan></text></g>
<g id="p5-2-7"><rect class="b" x="217" y="6098.5" width="228.3" height="25" rx="5"/><text class="t" x="223.5" y="6115">7.加强自身专业知识的学习，以提升自己。</text></g>
<g id="p5-3"><rect class="b" x="495.6" y="6485.5" width="80.4" height="25" rx="5"/><text class="t" x="502.1" y="6502">三、主要措施</text></g>
<g id="p5-3-1"><rect class="b" x="322.5" y="6337.5" width="146.2" height="25" rx="5"/><text class="t" x="329" y="6354">1.扎实做好常规教学工作：</text></g>
<g id="p5-3-1a"><rect class="b" x="54" y="6150.4" width="242" height="99.25" rx="5"/><text class="t" x="60.5" y="6166.9">（1）深入新课程理念的学习，用新的理<tspan x="60.5" dy="14.85">念指导自己的实际工作。组织本组成员深钻</tspan><tspan x="60.5" dy="14.85">教材，认真备课，探寻学生的认知规律。要求</tspan><tspan x="60.5" dy="14.85">教师优化教学过程、教学时间，尽力上好每节</tspan><tspan x="60.5" dy="14.85">课，努力提高课堂教学效率，向四十分钟要质</tspan><tspan x="60.5" dy="14.85">量。</tspan></text></g>
<g id="p5-3-1b"><rect class="b" x="54" y="6276.1" width="242" height="39.85" rx="5"/><text class="t" x="60.5" y="6292.6">（2）以年级组集体备课，充分发挥集体的<tspan x="60.5" dy="14.85">智慧。</tspan></text></g>
<g id="p5-3-1c"><rect class="b" x="54" y="6342.1" width="242" height="39.85" rx="5"/><text class="t" x="60.5" y="6358.6">（3）坚持按量写好教学反思，并适时组织教<tspan x="60.5" dy="14.85">师交流。</tspan></text></g>
<g id="p5-3-1d"><rect class="b" x="54" y="6408.1" width="242" height="39.85" rx="5"/><text class="t" x="60.5" y="6424.6">（4）落实教导处提出的"青蓝结对"工程<tspan x="60.5" dy="14.85">，互帮互学，共同进步。</tspan></text></g>
<g id="p5-3-1e"><rect class="b" x="54" y="6473.65" width="242" height="54.7" rx="5"/><text class="t" x="60.5" y="6490.15">（5）互相学习，共同提高。认真完成各自的<tspan x="60.5" dy="14.85">听课任务，每学期听课的次数教师不少于16</tspan><tspan x="60.5" dy="14.85">节。</tspan></text></g>
<g id="p5-3-2"><rect class="b" x="320" y="6632.5" width="148.7" height="25" rx="5"/><text class="t" x="326.5" y="6649">2.正常有序开展教研活动：</text></g>
<g id="p5-3-2a"><rect class="b" x="51.6" y="6554.1" width="242" height="39.85" rx="5"/><text class="t" x="58.1" y="6570.6">（1）保证集中学习的时间。要求组员按时到<tspan x="58.1" dy="14.85">会，每一次记录考勤及活动情况。</tspan></text></g>
<g id="p5-3-2b"><rect class="b" x="51.6" y="6621.1" width="242" height="39.85" rx="5"/><text class="t" x="58.1" y="6637.6">（2）要求教研组成员多学习理论知识，多进<tspan x="58.1" dy="14.85">行实践，多做实验总结。</tspan></text></g>
<g id="p5-3-2c"><rect class="b" x="51.6" y="6686.65" width="242" height="54.7" rx="5"/><text class="t" x="58.1" y="6703.15">（3）要求教师反思每天的教育教学工作的点滴<tspan x="58.1" dy="14.85">，养成思考的习惯，及时写在自己的</tspan><tspan x="58.1" dy="14.85">教学反思中。</tspan></text></g>

<g id="p2"><rect class="p" x="1460" y="3369" width="286" height="56" rx="32" ry="28"/><text class="pt" x="1488" y="3392.3">小学数学教研组工作计划2023春季<tspan x="1488" dy="20">（篇2）</tspan></text></g>
<g id="p2-1"><rect class="b" x="1773" y="3002.5" width="80" height="25" rx="5"/><text class="t" x="1779.5" y="3019">一、指导思想</text></g>
<g id="p2-1a"><rect class="b" x="1879.5" y="2965.4" width="243.5" height="99.25" rx="5"/><text class="t" x="1886" y="2981.9">认真贯彻教育局和学校的工作要点，围绕＂一<tspan x="1886" dy="14.85">切为了学生的发展＂的办学理念，以更新观念</tspan><tspan x="1886" dy="14.85">为前提，以提高师资整体素质为核心，以提高</tspan><tspan x="1886" dy="14.85">课堂教学效率为重点。认真搞好教学研究，促</tspan><tspan x="1886" dy="14.85">进教师、学生共同发展。努力提高数学教学质</tspan><tspan x="1886" dy="14.85">量。</tspan></text></g>
<g id="p2-2"><rect class="b" x="1773" y="3304.5" width="115" height="25" rx="5"/><text class="t" x="1779.5" y="3321">二、主要工作与措施</text></g>
<g id="p2-2a"><rect class="b" x="1914" y="3090.65" width="243" height="54.7" rx="5"/><text class="t" x="1920.5" y="3107.15">本学期继续加强学习《数学课程标准》和《学<tspan x="1920.5" dy="14.85">习质量评价标准》做到理论与教学实践相结合</tspan><tspan x="1920.5" dy="14.85">。努力追求真实、有效，高效的课堂。</tspan></text></g>
<g id="p2-2b"><rect class="b" x="1914" y="3172.2" width="243" height="69.55" rx="5"/><text class="t" x="1920.5" y="3188.7">1、备课：备教材、备学生。教案内容，包括<tspan x="1920.5" dy="14.85">教学课题、教学目标、重点难点、教学方法、</tspan><tspan x="1920.5" dy="14.85">教具、教学过程、板书设计、作业布置等，教</tspan><tspan x="1920.5" dy="14.85">研组将定期对其进行检查。</tspan></text></g>
<g id="p2-2c"><rect class="b" x="1914" y="3267.2" width="243" height="69.55" rx="5"/><text class="t" x="1920.5" y="3283.7">2、上课：围绕目标组织教学。讲授要精当、<tspan x="1920.5" dy="14.85">精练，突出学生主体地位，提倡＂自主学习、</tspan><tspan x="1920.5" dy="14.85">合作探究＂的学习方式。课堂要及时反馈教学</tspan><tspan x="1920.5" dy="14.85">效果。</tspan></text></g>
<g id="p2-2d"><rect class="b" x="1914" y="3363.65" width="243" height="54.7" rx="5"/><text class="t" x="1920.5" y="3380.15">3、作业的布置、批改：作业布置要适量，更要<tspan x="1920.5" dy="14.85">注意质的精当。批改要正确、及时，字迹要端</tspan><tspan x="1920.5" dy="14.85">正，书写格式要规范。</tspan></text></g>
<g id="p2-2e"><rect class="b" x="1914" y="3444.1" width="192" height="25" rx="5"/><text class="t" x="1920.5" y="3460.6">4、辅导：继续做好提优补差工作。</text></g>
<g id="p2-2f"><rect class="b" x="1914" y="3495.1" width="243" height="39.85" rx="5"/><text class="t" x="1920.5" y="3511.6">5、检测：改进检测的方法，对学生进行多方<tspan x="1920.5" dy="14.85">位评价，形式和手段可以多样化。</tspan></text></g>
<g id="p2-3"><rect class="b" x="1773" y="3765.5" width="80" height="25" rx="5"/><text class="t" x="1779.5" y="3782">三、具体安排</text></g>
<g id="p2-3m3"><rect class="b" x="1879.5" y="3598.5" width="58" height="25" rx="5"/><text class="t" x="1886" y="3615">三月份：</text></g>
<g id="p2-3m4"><rect class="b" x="1879.5" y="3703.5" width="58" height="25" rx="5"/><text class="t" x="1886" y="3720">四月份：</text></g>
<g id="p2-3m5"><rect class="b" x="1879.5" y="3805.5" width="58" height="25" rx="5"/><text class="t" x="1886" y="3822">五月份：</text></g>
<g id="p2-3m6"><rect class="b" x="1879.5" y="3934.5" width="58" height="25" rx="5"/><text class="t" x="1886" y="3951">六月份：</text></g>
<g id="p2-3a"><rect class="b" x="1963.5" y="3561.6" width="243" height="39.85" rx="5"/><text class="t" x="1970" y="3578.1">1、学习《数学课程标准》和《学习质量评价<tspan x="1970" dy="14.85">标准》。</tspan></text></g>
<g id="p2-3b"><rect class="b" x="1963.5" y="3627.5" width="111.5" height="25" rx="5"/><text class="t" x="1970" y="3644">2、制定教学计划。</text></g>
<g id="p2-3c"><rect class="b" x="1963.5" y="3678.5" width="226" height="25" rx="5"/><text class="t" x="1970" y="3695">1、我的＂有效课堂教学研究＂经验交流。</text></g>
<g id="p2-3d"><rect class="b" x="1963.5" y="3728.5" width="203" height="25" rx="5"/><text class="t" x="1970" y="3745">2、组织学生参加华罗庚杯数学竞赛。</text></g>
<g id="p2-3e"><rect class="b" x="1963.5" y="3780.5" width="180" height="25" rx="5"/><text class="t" x="1970" y="3797">1、信息技术与学科整合说课比赛。</text></g>
<g id="p2-3f"><rect class="b" x="1963.5" y="3831.5" width="203" height="25" rx="5"/><text class="t" x="1970" y="3848">2、青年教师有效课堂教学展示活动。</text></g>
<g id="p2-3g"><rect class="b" x="1963.5" y="3883.5" width="203" height="25" rx="5"/><text class="t" x="1970" y="3900">1、专业引领：如何进行有效的复习。</text></g>
<g id="p2-3h"><rect class="b" x="1963.5" y="3934.5" width="157.5" height="25" rx="5"/><text class="t" x="1970" y="3951">2、制定双向细目表及试卷。</text></g>
<g id="p2-3i"><rect class="b" x="1963.5" y="3985.5" width="122.5" height="25" rx="5"/><text class="t" x="1970" y="4002">3、教研组工作总结。</text></g>

<g id="p4"><rect class="p" x="1460" y="4303" width="286" height="54" rx="32" ry="27"/><text class="pt" x="1488" y="4326">小学数学教研组工作计划2023春季<tspan x="1488" dy="20">（篇4）</tspan></text></g>
<g id="p4-1"><rect class="b" x="1773" y="4095.5" width="92" height="25" rx="5"/><text class="t" x="1779.5" y="4112">一、指导思想：</text></g>
<g id="p4-1a"><rect class="b" x="1892" y="4036.1" width="243" height="143.8" rx="5"/><text class="t" x="1898.5" y="4052.6">全面贯彻党的教育方针，认真学习先进的教育<tspan x="1898.5" dy="14.85">理论和新的课程标准，积极投身课程改革，坚</tspan><tspan x="1898.5" dy="14.85">定不移地实施以培养学生创新意识、探索意识</tspan><tspan x="1898.5" dy="14.85">和实践能力为重心的素质教育，以更新观念为</tspan><tspan x="1898.5" dy="14.85">前提，以育人为归宿，以提高师资整体素质为</tspan><tspan x="1898.5" dy="14.85">核心，以提高课堂教学效率为重点。转变教研</tspan><tspan x="1898.5" dy="14.85">理念，改进教研方法，优化教研模式，积极探</tspan><tspan x="1898.5" dy="14.85">索在新课程改革背景下的小学数学教研工作新</tspan><tspan x="1898.5" dy="14.85">体系。</tspan></text></g>
<g id="p4-2"><rect class="b" x="1773" y="4539.5" width="92" height="25" rx="5"/><text class="t" x="1779.5" y="4556">二、师情分析：</text></g>
<g id="p4-2a"><rect class="b" x="1892" y="4205.8" width="243" height="84.4" rx="5"/><text class="t" x="1898.5" y="4222.3">各位教师都有教强的敬业精神，热爱学生，刻<tspan x="1898.5" dy="14.85">苦钻研，敏而好学。对所教的学科教材熟悉，</tspan><tspan x="1898.5" dy="14.85">能准确把握课程标准。但对课改的理念没有深</tspan><tspan x="1898.5" dy="14.85">刻体会，在教学中仍用老一套的教学模式，跟</tspan><tspan x="1898.5" dy="14.85">不上教育改革的步伐。</tspan></text></g>
<g id="p4-3"><rect class="b" x="1891" y="4843.5" width="81" height="25" rx="5"/><text class="t" x="1897.5" y="4860">三、主要工作</text></g>
<g id="p4-3-01"><rect class="b" x="1998" y="4316.1" width="244" height="39.85" rx="5"/><text class="t" x="2004.5" y="4332.6">（一）继续开展学科新课程实施研究，稳步推<tspan x="2004.5" dy="14.85">进课程改革。</tspan></text></g>
<g id="p4-3-02"><rect class="b" x="1998" y="4383.2" width="244" height="69.55" rx="5"/><text class="t" x="2004.5" y="4399.7">1、组织广大数学教师进一步研读《数学课程<tspan x="2004.5" dy="14.85">标准》整理把握其精神实质，以新课程标准指</tspan><tspan x="2004.5" dy="14.85">导平时的数学课堂教学和课题研究，努力使各</tspan><tspan x="2004.5" dy="14.85">年级学生的数学素养都能得到充分发展。</tspan></text></g>
<g id="p4-3-03"><rect class="b" x="1998" y="4479.2" width="244" height="69.55" rx="5"/><text class="t" x="2004.5" y="4495.7">2、结合新课程的成果展示活动，组织进行新<tspan x="2004.5" dy="14.85">课程教材教法研讨会，交流课程实施经验，探</tspan><tspan x="2004.5" dy="14.85">讨新课程实施中的困惑和问题，确保课程教材</tspan><tspan x="2004.5" dy="14.85">的平稳过渡。</tspan></text></g>
<g id="p4-3-03a"><rect class="b" x="2268" y="4494.1" width="242" height="39.85" rx="5"/><text class="t" x="2274.5" y="4510.6">（二）<tspan x="2274.5" dy="14.85">究，</tspan></text></g>
<g id="p4-3-04"><rect class="b" x="1998" y="4573.8" width="244" height="188.35" rx="5"/><text class="t" x="2004.5" y="4590.3">1、教研组将继续按备课→上课→说课→评课<tspan x="2004.5" dy="14.85">的程式，开展"一条龙"教研活动，将自主探究</tspan><tspan x="2004.5" dy="14.85">型课堂教学研究成果应用于平时的课堂教学，</tspan><tspan x="2004.5" dy="14.85">以此来提高教学质量。说课者不必拘泥于形式</tspan><tspan x="2004.5" dy="14.85">上的面面俱到，只要突出设计意图和匠心独运</tspan><tspan x="2004.5" dy="14.85">的教学环节即可；评课者不要泛泛而谈，要围</tspan><tspan x="2004.5" dy="14.85">绕研究主题谈真知灼见，既要谈出教研课的闪</tspan><tspan x="2004.5" dy="14.85">光点，又要能切中要害，指出不足。总之，评</tspan><tspan x="2004.5" dy="14.85">课要体现出评课者的理论水平、看课水平和表</tspan><tspan x="2004.5" dy="14.85">达水平。教研组将继续推行领导示范课和骨干</tspan><tspan x="2004.5" dy="14.85">指导课制度，充分发挥名优教师的力量，以传</tspan><tspan x="2004.5" dy="14.85">帮带的形式提高年轻教师的教学水平。</tspan></text></g>
<g id="p4-3-05"><rect class="b" x="1998" y="4788.65" width="244" height="54.7" rx="5"/><text class="t" x="2004.5" y="4805.15">2、组织参加，认真上好现代课堂教学优质课<tspan x="2004.5" dy="14.85">活动，为广大教师提供学习研讨的案例和标准</tspan><tspan x="2004.5" dy="14.85">，提高活动效益。</tspan></text></g>
<g id="p4-3-06"><rect class="b" x="1998" y="4869.8" width="244" height="84.4" rx="5"/><text class="t" x="2004.5" y="4886.3">3、切实做好"五认真"工作（备课、上课、批<tspan x="2004.5" dy="14.85">改、考试、辅导）其中备课一定要备在备课本</tspan><tspan x="2004.5" dy="14.85">上，并写好教学的反思。如没有教学反思者或</tspan><tspan x="2004.5" dy="14.85">数量不够者，最多评等级为C。学校将每月进</tspan><tspan x="2004.5" dy="14.85">行专题检查。</tspan></text></g>
<g id="p4-3-07"><rect class="b" x="1998" y="4980.5" width="158" height="25" rx="5"/><text class="t" x="2004.5" y="4997">4、组织学生进行口算比赛。</text></g>
<g id="p4-3-08"><rect class="b" x="1998" y="5035.2" width="244" height="69.55" rx="5"/><text class="t" x="2004.5" y="5051.7">5、教师一学期要求制作1～2个有质量的教学<tspan x="2004.5" dy="14.85">课件，搜集一个有一定质量的教学资料，完成</tspan><tspan x="2004.5" dy="14.85">1篇教学论文，上好1堂示范课，促进教师现代</tspan><tspan x="2004.5" dy="14.85">信息能力和理论水平的提高。</tspan></text></g>
<g id="p4-3-08a"><rect class="b" x="2268" y="5032.5" width="150" height="25" rx="5"/><text class="t" x="2274.5" y="5049">4学</text></g>
<g id="p4-3-08b"><rect class="b" x="2268" y="5083.5" width="150" height="25" rx="5"/><text class="t" x="2274.5" y="5100">四。</text></g>
<g id="p4-3-09"><rect class="b" x="1998" y="5134.1" width="244" height="39.85" rx="5"/><text class="t" x="2004.5" y="5150.6">1、加强教师学习培训，确立新理念。（<tspan x="2004.5" dy="14.85">bijlAogao.cOm）</tspan></text></g>
<g id="p4-3-10"><rect class="b" x="1998" y="5199.5" width="239" height="25" rx="5"/><text class="t" x="2004.5" y="5216">2、转变教师教学观念，建立新的教学理念。</text></g>
<g id="p4-3-11"><rect class="b" x="1998" y="5251.8" width="244" height="84.4" rx="5"/><text class="t" x="2004.5" y="5268.3">3、在课堂教学中，紧紧围绕＂建立新课程下<tspan x="2004.5" dy="14.85">数学数学学习方式＂，转变学生学习方式，让</tspan><tspan x="2004.5" dy="14.85">学生主动尝试探索，调动学生学习积极度性，</tspan><tspan x="2004.5" dy="14.85">发展能力；在此基础上，鼓励教师开展不拘一</tspan><tspan x="2004.5" dy="14.85">格的课堂教学改革。（为本学期的工作重点）</tspan></text></g>
<g id="p4-3-12"><rect class="b" x="1998" y="5361.5" width="193" height="25" rx="5"/><text class="t" x="2004.5" y="5378">4、完成教研室的各项临时性工作。</text></g>
</g>
</svg>
